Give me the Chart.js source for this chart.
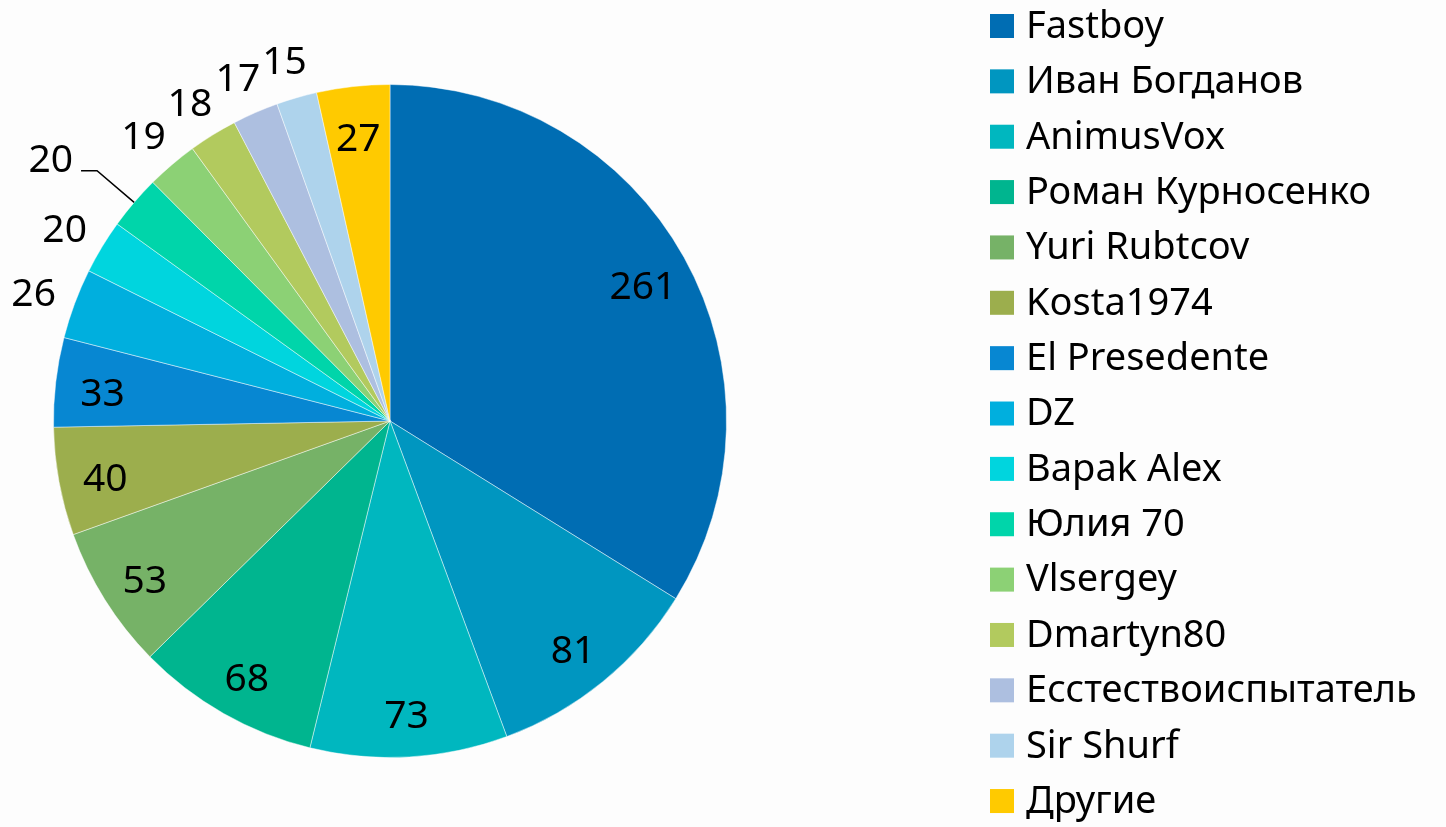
<!DOCTYPE html>
<html>
<head>
<meta charset="utf-8">
<script src="https://cdn.jsdelivr.net/npm/chart.js@4.4.0/dist/chart.umd.min.js"></script>
<style>
  html, body { margin: 0; padding: 0; background: #fdfdfd; }
  #wrap { width: 1446px; height: 827px; position: relative; }
</style>
</head>
<body>
<div id="wrap"><canvas id="c" width="1446" height="827"></canvas></div>
<script>
const categories = ['Fastboy', 'Иван Богданов', 'AnimusVox', 'Роман Курносенко', 'Yuri Rubtcov',
  'Kosta1974', 'El Presedente', 'DZ', 'Bapak Alex', 'Юлия 70', 'Vlsergey', 'Dmartyn80',
  'Есстествоиспытатель', 'Sir Shurf', 'Другие'];
const values = [261, 81, 73, 68, 53, 40, 33, 26, 20, 20, 19, 18, 17, 15, 27];
const colors = ['#006DB3', '#0096C0', '#00B7BF', '#00B58F', '#76B267', '#9CAE4D', '#0787D2',
  '#00AFDE', '#00D5DE', '#00D5AA', '#8CD175', '#B2CA5E', '#ADBFE0', '#AED3EC', '#FFCA00'];
// label placement: 'in' inside slice, 'out' outside, 'leader' outside with leader line
const labelPlacement = ['in', 'in', 'in', 'in', 'in', 'in', 'in', 'out', 'out', 'leader',
  'out', 'out', 'out', 'out', 'in'];

const FONT = '"Noto Sans", "DejaVu Sans", sans-serif';

const labelPlugin = {
  id: 'sliceLabels',
  afterDatasetsDraw(chart) {
    const ctx = chart.ctx;
    const meta = chart.getDatasetMeta(0);
    ctx.save();
    ctx.fillStyle = '#000';
    ctx.font = '39px ' + FONT;
    meta.data.forEach((arc, i) => {
      const p = arc.getProps(['x', 'y', 'startAngle', 'endAngle', 'outerRadius'], true);
      const mid = (p.startAngle + p.endAngle) / 2;
      const R = p.outerRadius;
      const txt = String(chart.data.datasets[0].data[i]);
      const place = labelPlacement[i];
      if (place === 'leader') {
        const x0 = p.x + Math.cos(mid) * R, y0 = p.y + Math.sin(mid) * R;
        const x1 = p.x + Math.cos(mid) * R * 1.145, y1 = p.y + Math.sin(mid) * R * 1.145;
        const x2 = x1 - 16;
        ctx.strokeStyle = '#000';
        ctx.lineWidth = 1.5;
        ctx.beginPath();
        ctx.moveTo(x0, y0); ctx.lineTo(x1, y1); ctx.lineTo(x2, y1);
        ctx.stroke();
        ctx.textAlign = 'right';
        ctx.textBaseline = 'middle';
        ctx.fillText(txt, x2 - 8, y1 - 10);
      } else {
        const f = place === 'in' ? 0.86 : 1.13;
        ctx.textAlign = 'center';
        ctx.textBaseline = 'middle';
        ctx.fillText(txt, p.x + Math.cos(mid) * R * f, p.y + Math.sin(mid) * R * f + 7);
      }
    });
    ctx.restore();
  }
};

const legendPlugin = {
  id: 'sideLegend',
  afterDraw(chart) {
    const ctx = chart.ctx;
    const ds = chart.data.datasets[0];
    const x0 = 990, y0 = 14, pitch = 55.36, box = 24;
    ctx.save();
    ctx.font = '38px ' + FONT;
    ctx.textAlign = 'left';
    ctx.textBaseline = 'middle';
    chart.data.labels.forEach((lab, i) => {
      const y = y0 + i * pitch;
      ctx.fillStyle = ds.backgroundColor[i];
      ctx.fillRect(x0, y, box, box);
      ctx.fillStyle = '#000';
      ctx.fillText(lab, x0 + 36, y + box / 2 + 1);
    });
    ctx.restore();
  }
};

new Chart(document.getElementById('c'), {
  type: 'pie',
  data: {
    labels: categories,
    datasets: [{
      data: values,
      backgroundColor: colors,
      borderColor: 'rgba(255,255,255,0.45)',
      borderWidth: 1
    }]
  },
  options: {
    responsive: false,
    animation: false,
    layout: { padding: { left: 53, top: 84, bottom: 69, right: 719 } },
    plugins: {
      legend: { display: false },
      tooltip: { enabled: false }
    }
  },
  plugins: [labelPlugin, legendPlugin]
});
</script>
</body>
</html>
